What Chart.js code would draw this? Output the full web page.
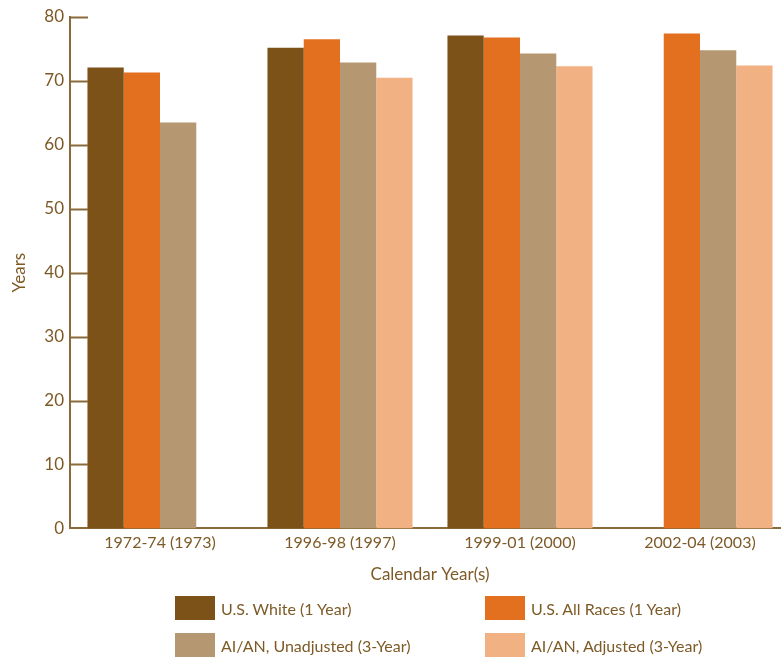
<!DOCTYPE html>
<html>
<head>
<meta charset="utf-8">
<script src="https://cdn.jsdelivr.net/npm/chart.js@4"></script>
<style>
  body { margin: 0; overflow: hidden; background: #fff; width: 781px; height: 658px; position: relative; }
  #chart { position: absolute; left: 0; top: 0; }
  .leg { position: absolute; display: flex; align-items: center; font-family: Lato, sans-serif; font-size: 16px; color: #7d5a26; }
  .leg span.box { display: inline-block; width: 40px; height: 24px; margin-right: 6px; }
</style>
</head>
<body>
<canvas id="chart" width="800" height="658"></canvas>
<div id="legend"></div>
<script>
const categories = ['1972-74 (1973)', '1996-98 (1997)', '1999-01 (2000)', '2002-04 (2003)'];
const seriesNames = ['U.S. White (1 Year)', 'U.S. All Races (1 Year)', 'AI/AN, Unadjusted (3-Year)', 'AI/AN, Adjusted (3-Year)'];
const usWhite = [72.1, 75.2, 77.1, null];
const usAllRaces = [71.3, 76.5, 76.8, 77.4];
const aianUnadjusted = [63.5, 72.9, 74.3, 74.8];
const aianAdjusted = [null, 70.5, 72.3, 72.4];
const yTicks = [0, 10, 20, 30, 40, 50, 60, 70, 80];

const colors = ['#7d5219', '#e2701e', '#b59871', '#f2b182'];
const brown = '#8a6a3a';
const textColor = '#7d5a26';

// small tick marks pointing into the plot area
const innerTicks = {
  id: 'innerTicks',
  afterDraw(chart) {
    const ctx = chart.ctx;
    const y = chart.scales.y;
    const left = chart.chartArea.left;
    ctx.save();
    ctx.strokeStyle = brown;
    ctx.lineWidth = 2;
    yTicks.forEach(v => {
      if (v === 0) return;
      const py = Math.round(y.getPixelForValue(v)) + 0.5;
      ctx.beginPath();
      ctx.moveTo(left, py);
      ctx.lineTo(left + 18, py);
      ctx.stroke();
    });
    ctx.restore();
  }
};

const datasets = [usWhite, usAllRaces, aianUnadjusted, aianAdjusted].map((d, i) => ({
  label: seriesNames[i],
  data: d,
  backgroundColor: colors[i],
  borderWidth: 0,
  categoryPercentage: 0.806,
  barPercentage: 1.0
}));

const chart = new Chart(document.getElementById('chart').getContext('2d'), {
  type: 'bar',
  data: { labels: categories, datasets: datasets },
  options: {
    responsive: false,
    animation: false,
    layout: { padding: { top: 17, right: 10, bottom: 73, left: 0 } },
    plugins: { legend: { display: false }, tooltip: { enabled: false } },
    scales: {
      x: {
        grid: { display: false, drawTicks: false },
        border: { display: true, color: brown, width: 2 },
        ticks: { color: textColor, font: { family: 'Lato', size: 16 }, padding: 5 },
        title: {
          display: true,
          text: 'Calendar Year(s)',
          color: textColor,
          font: { family: 'Lato', size: 17 },
          padding: { top: 7, bottom: 0 }
        }
      },
      y: {
        min: 0,
        max: 80,
        afterFit(scale) { scale.width = 70; },
        afterBuildTicks(scale) { scale.ticks = yTicks.map(v => ({ value: v })); },
        grid: { display: false, drawTicks: false },
        border: { display: true, color: brown, width: 2 },
        ticks: { color: textColor, font: { family: 'Lato', size: 17 }, padding: 6 },
        title: {
          display: true,
          text: 'Years',
          color: textColor,
          font: { family: 'Lato', size: 17 },
          padding: { top: 9, bottom: 0 }
        }
      }
    }
  },
  plugins: [innerTicks]
});

// two-column legend under the axis
const legendPos = [[175, 596], [485, 596], [175, 633], [485, 633]];
const legendEl = document.getElementById('legend');
seriesNames.forEach((name, i) => {
  const div = document.createElement('div');
  div.className = 'leg';
  div.style.left = legendPos[i][0] + 'px';
  div.style.top = legendPos[i][1] + 'px';
  div.innerHTML = '<span class="box" style="background:' + colors[i] + '"></span>' + name;
  legendEl.appendChild(div);
});
</script>
</body>
</html>
